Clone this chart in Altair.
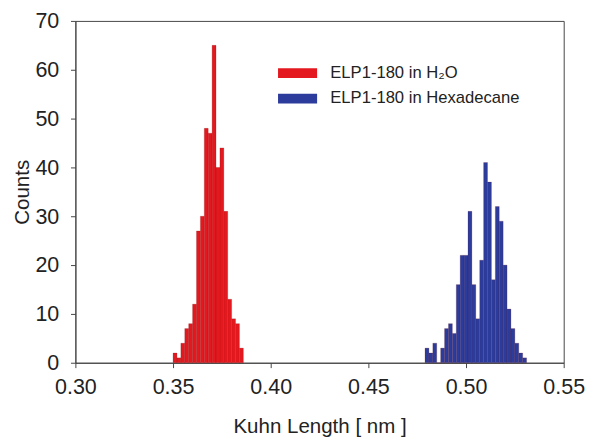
import altair as alt
import pandas as pd

# Bin start positions (nm), bin width 0.002 nm
red_bins = [0.350, 0.352, 0.354, 0.356, 0.358, 0.360, 0.362, 0.364, 0.366,
            0.368, 0.370, 0.372, 0.374, 0.376, 0.378, 0.380, 0.382, 0.384]
red_counts = [2, 1, 4, 7, 8, 12, 27, 30, 48, 47, 65, 40, 44, 31, 13, 9, 8, 3]

blue_bins = [0.479, 0.481, 0.483, 0.485, 0.487, 0.489, 0.491, 0.493, 0.495,
             0.497, 0.499, 0.501, 0.503, 0.505, 0.507, 0.509, 0.511, 0.513,
             0.515, 0.517, 0.519, 0.521, 0.523, 0.525, 0.527, 0.529]
blue_counts = [3, 2, 4, 0, 3, 7, 8, 6, 16, 22, 22, 31, 16, 9, 21, 41, 37, 17,
               32, 29, 20, 11, 7, 4, 2, 1]
bin_width = 0.002

series_names = ["ELP1-180 in H\u2082O", "ELP1-180 in Hexadecane"]
series_colors = ["#e3191f", "#2c3c9c"]

x_ticks = [0.30, 0.35, 0.40, 0.45, 0.50, 0.55]
y_ticks = [0, 10, 20, 30, 40, 50, 60, 70]

rows = []
for b, c in zip(red_bins, red_counts):
    rows.append({"start": b, "end": b + bin_width, "count": c, "series": series_names[0]})
for b, c in zip(blue_bins, blue_counts):
    rows.append({"start": b, "end": b + bin_width, "count": c, "series": series_names[1]})
df = pd.DataFrame(rows)

FONT = "Liberation Sans"

chart = alt.Chart(df).mark_bar(strokeWidth=0.4, stroke="#6a1010", strokeOpacity=0.5).encode(
    x=alt.X("start:Q", scale=alt.Scale(domain=[0.30, 0.55], nice=False, zero=False, padding=0),
            axis=alt.Axis(values=x_ticks, format=".2f", title="Kuhn Length [ nm ]",
                          labelFlush=False)),
    x2="end:Q",
    y=alt.Y("count:Q", scale=alt.Scale(domain=[0, 70], nice=False),
            axis=alt.Axis(values=y_ticks, title="Counts", labelFlush=False)),
    y2=alt.datum(0),
    color=alt.Color("series:N",
                    scale=alt.Scale(domain=series_names, range=series_colors),
                    legend=alt.Legend(title=None, orient="none", legendX=219, legendY=45,
                                      symbolType="M-4,-1L4,-1L4,1L-4,1Z",
                                      symbolSize=100, symbolStrokeWidth=0,
                                      labelFont=FONT, labelFontSize=17, labelColor="#222",
                                      labelLimit=400,
                                      labelOffset=25, rowPadding=8, padding=0)),
).properties(
    width=500, height=350,
    autosize=alt.AutoSizeParams(type="none"),
    padding={"left": 69, "top": 8, "right": 30, "bottom": 80},
).configure_view(
    stroke="#444", strokeWidth=1
).configure_axis(
    grid=False, domainColor="#444", tickColor="#444", tickSize=5,
    labelFont=FONT, labelFontSize=22, labelColor="#222",
    titleFont=FONT, titleFontSize=21, titleFontWeight="normal", titleColor="#222",
).configure_axisX(
    labelPadding=9, titlePadding=19
).configure_axisY(
    labelPadding=12, titlePadding=3
)

chart.save("out.html", embed_options={"renderer": "svg", "actions": False})
